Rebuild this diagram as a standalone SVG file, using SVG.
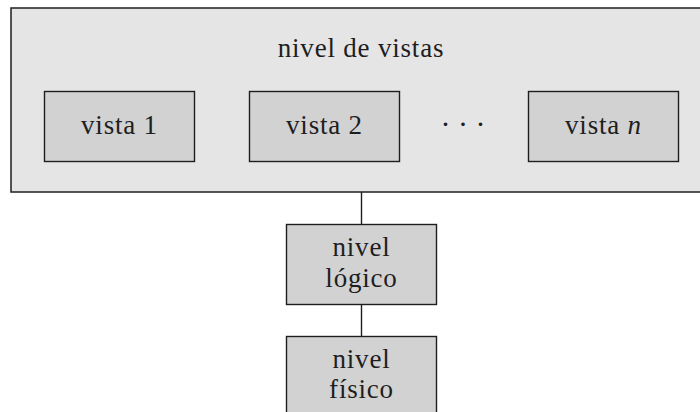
<svg xmlns="http://www.w3.org/2000/svg" width="700" height="412" viewBox="0 0 700 412">
<style>
.outer{fill:#e5e5e6;stroke:#1e1e1e;stroke-width:1.5}
.box{fill:#d2d2d3;stroke:#1e1e1e;stroke-width:1.4}
.t{font-family:"Liberation Serif","Times New Roman",serif;font-size:27px;fill:#1e1e1e;text-anchor:middle;letter-spacing:0.8px}
.c{stroke:#1e1e1e;stroke-width:1.4;fill:none}
</style>
<g id="nivel-vistas">
<rect class="outer" x="11" y="8" width="700" height="184"/>
<text class="t" x="361" y="57">nivel de vistas</text>
</g>
<g id="vista1">
<rect class="box" x="44.5" y="91.5" width="150" height="70"/>
<text class="t" x="119.5" y="134">vista 1</text>
</g>
<g id="vista2">
<rect class="box" x="249.5" y="91.5" width="150" height="70"/>
<text class="t" x="324.5" y="134">vista 2</text>
</g>
<g id="ellipsis">
<text class="t" x="463" y="134" style="font-size:30px;letter-spacing:0">· · ·</text>
</g>
<g id="vistan">
<rect class="box" x="528.5" y="91.5" width="150" height="70"/>
<text class="t" x="603.5" y="134">vista <tspan font-style="italic">n</tspan></text>
</g>
<g id="connectors">
<line class="c" x1="361.5" y1="192" x2="361.5" y2="224"/>
<line class="c" x1="361.5" y1="304" x2="361.5" y2="336"/>
</g>
<g id="nivel-logico">
<rect class="box" x="286.5" y="224.5" width="150" height="80"/>
<text class="t" x="361.5" y="256">nivel</text>
<text class="t" x="361.5" y="287">lógico</text>
</g>
<g id="nivel-fisico">
<rect class="box" x="286.5" y="336.5" width="150" height="90"/>
<text class="t" x="361.5" y="368">nivel</text>
<text class="t" x="361.5" y="398">físico</text>
</g>
</svg>
